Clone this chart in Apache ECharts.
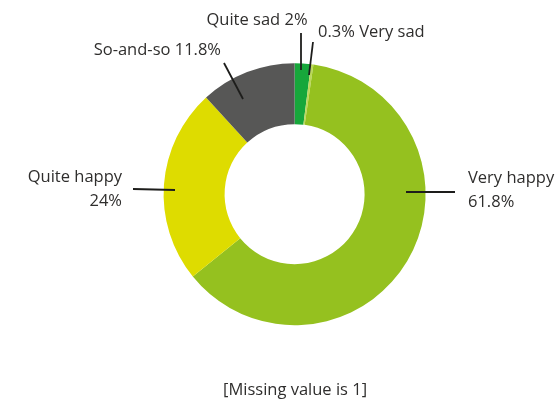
<!DOCTYPE html>
<html>
<head>
<meta charset="utf-8">
<script src="https://cdn.jsdelivr.net/npm/echarts@6/dist/echarts.min.js"></script>
<style>html,body{margin:0;padding:0;background:#fff}#c{width:559px;height:407px}</style>
</head>
<body>
<div id="c"></div>
<script>
// ---- data ----
const categories = ['Quite sad', 'Very sad', 'Very happy', 'Quite happy', 'So-and-so'];
const values = [2, 0.3, 61.8, 24, 11.8];
const labelTexts = ['Quite sad 2%', '0.3% Very sad', 'Very happy\n61.8%', 'Quite happy\n24%', 'So-and-so 11.8%'];
const footnote = '[Missing value is 1]';

// ---- styles ----
const colors = ['#17a73b', '#bcd85a', '#95c11f', '#dedc00', '#575756'];
const textColor = '#2f2e2d';
const fontFamily = 'Open Sans';
const fontSize = 16.5;
// label placement (pixels): text anchor and guide-line endpoints
const labelPlace = [
  {x: 257, y: 20, align: 'center', line: [[301, 33], [301, 70]]},
  {x: 318, y: 32, align: 'left', line: [[313, 42], [309, 75]]},
  {x: 468, y: 190, align: 'left', line: [[455, 192], [406, 192]]},
  {x: 122, y: 189, align: 'right', line: [[133, 189], [175, 190]]},
  {x: 221, y: 50, align: 'right', line: [[224, 63], [243, 99]]}
];

const pieBase = {
  type: 'pie',
  center: ['52.7%', '47.7%'],
  radius: [70, 131],
  startAngle: 90,
  clockwise: true,
  avoidLabelOverlap: false,
  minAngle: 0,
  emphasis: {disabled: true},
  silent: true
};

const chart = echarts.init(document.getElementById('c'), null, {renderer: 'canvas'});
chart.setOption({
  animation: false,
  color: colors,
  title: {
    text: footnote,
    left: 218,
    bottom: 3,
    textStyle: {fontFamily: fontFamily, fontSize: fontSize, fontWeight: 'normal', color: textColor}
  },
  series: [
    Object.assign({}, pieBase, {
      z: 2,
      itemStyle: {borderWidth: 0},
      label: {show: false},
      labelLine: {show: false},
      data: categories.map((c, i) => ({name: c, value: values[i]}))
    }),
    Object.assign({}, pieBase, {
      z: 5,
      itemStyle: {color: 'rgba(0,0,0,0)', borderWidth: 0},
      label: {
        show: true,
        position: 'outside',
        formatter: p => labelTexts[p.dataIndex],
        fontFamily: fontFamily,
        fontSize: fontSize,
        lineHeight: 24,
        color: textColor
      },
      labelLine: {show: true, length: 10, length2: 10, lineStyle: {color: '#1d1d1b', width: 1.8}},
      labelLayout: function (params) {
        const L = labelPlace[params.dataIndex];
        return {x: L.x, y: L.y, align: L.align, verticalAlign: 'middle', labelLinePoints: L.line};
      },
      data: categories.map((c, i) => ({name: c, value: values[i]}))
    })
  ]
});
</script>
</body>
</html>
